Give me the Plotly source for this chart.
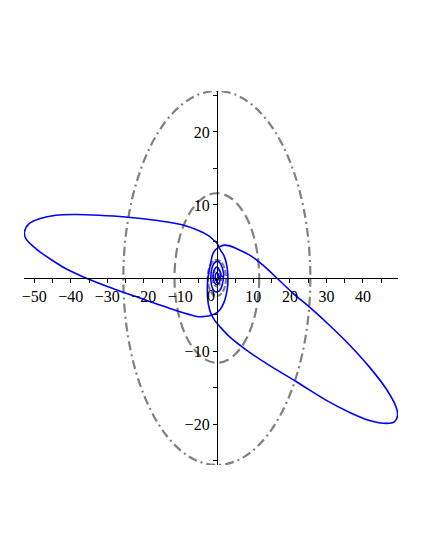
import plotly.graph_objects as go

# ---- data ----
# inner spiral loops near the origin
inner_x = [0.45, 0.3, 0.0, -0.3, -0.45, -0.3, 0.0, 0.3, 0.55,
           1.0, 0.7, 0.0, -0.7, -1.0, -0.7, 0.0, 0.7, 1.1,
           1.8, 1.4, 0.3, -0.9, -1.6, -1.5, -0.7, 0.6, 1.5, 1.8]
inner_y = [0.2, 0.6, 0.75, 0.55, 0.15, -0.3, -0.4, -0.25, 0.2,
           0.3, 1.1, 1.5, 1.1, 0.2, -0.6, -0.9, -0.6, 0.3,
           0.2, 1.5, 2.3, 1.9, 0.6, -0.9, -1.8, -1.8, -0.9, 0.2]

# upper-left big loop
ul_x = [3.0, 3.0, 2.6, 1.9, 0.9, -0.2, -1.3, -2.4, -3.6, -5.0, -6.8, -9.0, -11.4, -16.8,
        -23.2, -29.6, -35.9, -40.5, -45.0, -49.5, -52.3, -52.7, -51.4, -48.6,
        -44.1, -38.6, -32.3, -25.0, -16.8, -9.5, -5.0, -2.3, -0.9, 0.0, 0.8,
        2.0, 2.7, 3.0, 3.0]
ul_y = [0.5, -0.8, -2.2, -3.4, -4.3, -4.8, -5.05, -5.2, -5.28, -5.3, -5.1, -4.8, -4.4, -3.5,
        -2.37, -1.23, 0.0, 1.05, 2.4, 4.0, 5.4, 6.3, 7.45, 8.1,
        8.6, 8.7, 8.6, 8.36, 7.9, 7.3, 6.5, 5.8, 5.2, 4.8, 4.0,
        3.0, 1.8, 0.5, -0.8]

# lower-right big loop
lr_x = [16.4, 12.7, 9.1, 5.45, 3.5, 2.0, 0.8, -0.3, -1.1, -1.6, -2.1, -2.5,
        -2.6, -2.5, -2.1, -1.5, -0.6, 0.9, 3.6, 8.2, 14.5, 21.8, 30.0, 36.4,
        41.8, 46.4, 48.6, 49.5, 49.1, 46.4, 41.8, 36.4, 30.9, 25.4, 20.9, 16.4,
        12.7]
lr_y = [0.0, 1.74, 3.1, 4.0, 4.4, 4.5, 4.3, 3.9, 3.3, 2.3, 1.0, -0.3,
        -1.6, -2.9, -4.1, -5.0, -5.8, -6.7, -8.1, -9.9, -12.0, -14.2, -16.75, -18.4,
        -19.5, -19.9, -19.7, -18.8, -17.7, -15.2, -12.2, -9.2, -6.5, -4.0, -2.1, 0.0,
        1.74]

# gray reference circles (radius in data units)
circle_radii = [25.6, 11.6, 2.5, 1.15]

x_ticks = [-50, -40, -30, -20, -10, 10, 20, 30, 40]
y_ticks = [-20, -10, 10, 20]
x_minor = list(range(-50, 50, 5))
y_minor = list(range(-25, 26, 5))
x_range = [-52.8, 49.6]
y_range = [-25.6, 25.6]

# ---- figure ----
curve_x = inner_x + [None] + ul_x + [None] + lr_x
curve_y = inner_y + [None] + ul_y + [None] + lr_y

fig = go.Figure()
fig.add_trace(go.Scatter(
    x=curve_x, y=curve_y, mode="lines",
    line=dict(color="#0000ff", width=1.6, shape="spline", smoothing=1.0),
    connectgaps=False, hoverinfo="skip", showlegend=False,
))

circle_dash = ["9px,4px,2px,4px", "10px,5px", "6px,2px", "3px,2px"]
shapes = []
for r, d in zip(circle_radii, circle_dash):
    shapes.append(dict(type="circle", xref="x", yref="y",
                       x0=-r, x1=r, y0=-r, y1=r, layer="below",
                       line=dict(color="#808080", width=2.2, dash=d)))

xpos = (0 - x_range[0]) / (x_range[1] - x_range[0])
ypos = (0 - y_range[0]) / (y_range[1] - y_range[0])

font = dict(family="Liberation Serif, Times New Roman, serif", size=16, color="black")

fig.update_layout(
    width=430, height=556,
    margin=dict(l=16, r=40, t=83, b=99, autoexpand=False),
    paper_bgcolor="white", plot_bgcolor="white",
    shapes=shapes,
    font=font,
    xaxis=dict(range=x_range, showgrid=False, zeroline=False,
               showline=True, linecolor="black", linewidth=1,
               anchor="free", position=ypos,
               tickmode="array", tickvals=x_ticks,
               ticks="outside", ticklen=4, tickcolor="black",
               minor=dict(tickmode="array", tickvals=x_minor, ticks="outside",
                          ticklen=4, tickcolor="black", showgrid=False),
               tickfont=font, automargin=False, fixedrange=True),
    yaxis=dict(range=y_range, showgrid=False, zeroline=False,
               showline=True, linecolor="black", linewidth=1,
               anchor="free", position=xpos,
               tickmode="array", tickvals=y_ticks,
               ticks="outside", ticklen=4, tickcolor="black",
               minor=dict(tickmode="array", tickvals=y_minor, ticks="outside",
                          ticklen=4, tickcolor="black", showgrid=False),
               tickfont=font, automargin=False, fixedrange=True),
    annotations=[dict(x=0, y=0, xref="x", yref="y", text="0", showarrow=False,
                      xshift=-6, yshift=-17, font=font)],
)

fig.write_html("out.html")
